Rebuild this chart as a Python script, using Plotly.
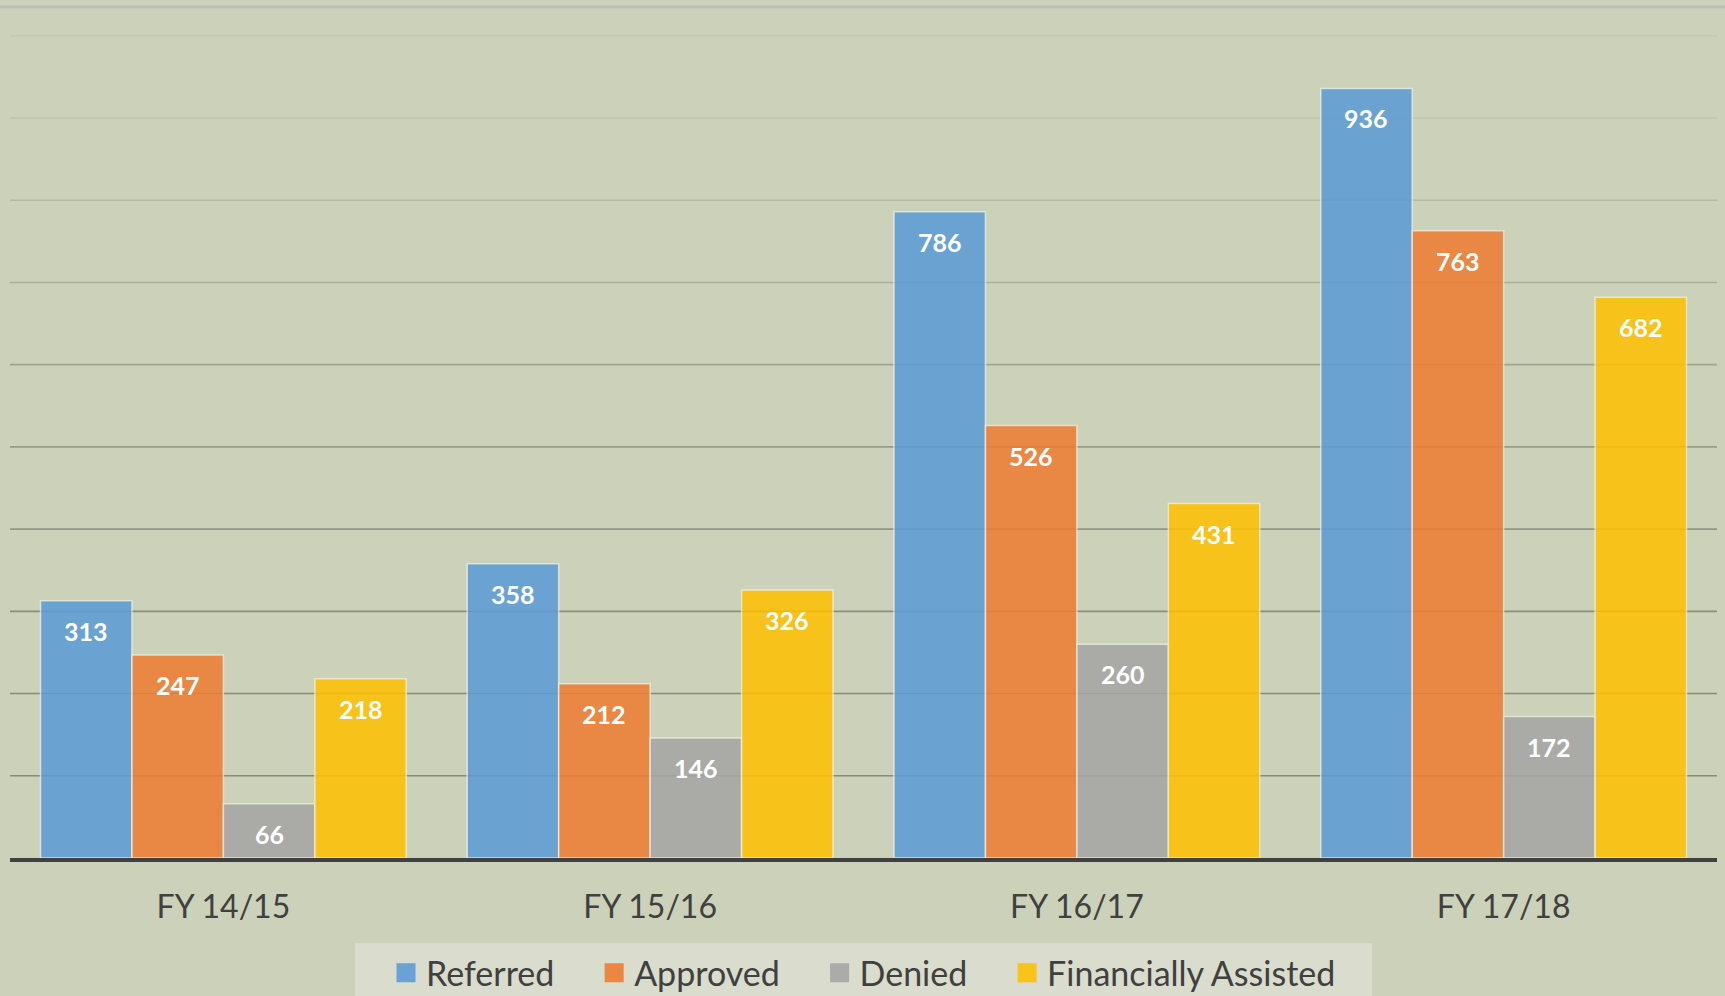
import plotly.graph_objects as go

categories = ["FY 14/15", "FY 15/16", "FY 16/17", "FY 17/18"]
referred = [313, 358, 786, 936]
approved = [247, 212, 526, 763]
denied = [66, 146, 260, 172]
fin_assisted = [218, 326, 431, 682]

series_names = ["Referred", "Approved", "Denied", "Financially Assisted"]
series_values = [referred, approved, denied, fin_assisted]
series_colors = ["#5B9BD5", "#ED7D31", "#A5A5A5", "#FFC000"]

grid_values = [100, 200, 300, 400, 500, 600, 700, 800, 900, 1000]
grid_colors = ["#878b7b", "#878b7b", "#8a8e7e", "#929685", "#989c8b",
               "#a0a492", "#aaae9a", "#b4b8a4", "#bfc3ae", "#c4c8b3"]

BG = "#ccd1b9"
LEGEND_BG = "#dadccd"
BARGAP = 0.143
FONT = "Lato"
PAD = "\u00a0" * 4

fig = go.Figure()
for name, vals, col in zip(series_names, series_values, series_colors):
    fig.add_trace(go.Bar(
        x=categories, y=vals, name=name, showlegend=False,
        marker=dict(color=col, opacity=0.86,
                    line=dict(color="rgba(245,245,235,0.75)", width=1.5)),
    ))
# legend entries with larger square swatches
for k, (name, col) in enumerate(zip(series_names, series_colors)):
    label = name + (PAD if k < len(series_names) - 1 else "")
    fig.add_trace(go.Scatter(
        x=[None], y=[None], mode="markers", name=label,
        marker=dict(symbol="square", size=16, color=col, opacity=0.88,
                    line=dict(color=col, width=3)),
    ))

# data labels, placed inside near the top of each bar
n = len(series_names)
w = (1 - BARGAP) / n
annotations = []
for j, vals in enumerate(series_values):
    for i, v in enumerate(vals):
        annotations.append(dict(
            x=i + (j - (n - 1) / 2) * w, y=v, xref="x", yref="y",
            text=f"<b>{v}</b>", showarrow=False, yshift=-30,
            font=dict(family=FONT, size=25, color="white"),
            xanchor="center", yanchor="middle",
        ))

shapes = []
for gv, gc in zip(grid_values, grid_colors):
    shapes.append(dict(type="line", xref="paper", yref="y", x0=0, x1=1,
                       y0=gv, y1=gv, line=dict(color=gc, width=1.6),
                       layer="below"))
# top border line of chart
shapes.append(dict(type="line", xref="paper", yref="paper", x0=-0.01, x1=1.01,
                   y0=1.0, y1=1.0, line=dict(color="#bdbfb8", width=3),
                   layer="below"))
# legend background panel
shapes.append(dict(type="rect", xref="paper", yref="paper",
                   x0=0.2021, x1=0.798, y0=-0.2, y1=-0.0999,
                   fillcolor=LEGEND_BG, line=dict(width=0), layer="below"))

fig.update_layout(
    width=1725, height=996,
    margin=dict(l=10, r=8, t=7, b=138, autoexpand=False),
    paper_bgcolor=BG, plot_bgcolor=BG,
    barmode="group", bargap=BARGAP, bargroupgap=0,
    font=dict(family=FONT, color="#404040"),
    showlegend=True,
    legend=dict(orientation="h", x=0.5, xanchor="center",
                yref="container", y=0.052, yanchor="top",
                bgcolor="rgba(0,0,0,0)", font=dict(family=FONT, size=34, color="#404040"),
                itemsizing="trace", traceorder="normal", borderwidth=0),
    annotations=annotations,
    shapes=shapes,
)
fig.update_xaxes(showgrid=False, showline=True, linecolor="#404040", linewidth=4,
                 ticks="outside", ticklen=18, tickcolor="rgba(0,0,0,0)",
                 tickfont=dict(family=FONT, size=32, color="#404040"))
fig.update_yaxes(range=[0, 1035], showgrid=False, showticklabels=False,
                 zeroline=False, showline=False)

fig.write_html("out.html", config={"displayModeBar": False},
               post_script="document.body.style.margin='0';document.body.style.background='" + BG + "';")
